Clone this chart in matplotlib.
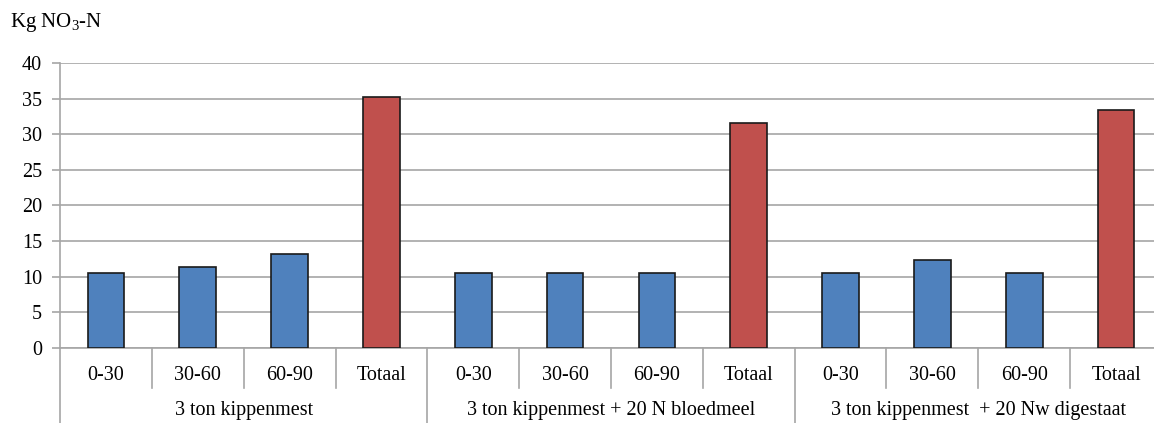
import numpy as np
import matplotlib.pyplot as plt
from matplotlib.transforms import blended_transform_factory

plt.rcParams['font.family'] = ['Liberation Serif', 'DejaVu Serif']
plt.rcParams['mathtext.fontset'] = 'custom'
plt.rcParams['mathtext.rm'] = 'Liberation Serif'

groups = ['3 ton kippenmest', '3 ton kippenmest + 20 N bloedmeel', '3 ton kippenmest  + 20 Nw digestaat']
layers = ['0-30', '30-60', '60-90', 'Totaal']
values_1 = [10.5, 11.4, 13.2, 35.2]
values_2 = [10.5, 10.5, 10.5, 31.6]
values_3 = [10.5, 12.3, 10.5, 33.4]

blue = '#4F81BD'
red = '#C0504D'
grid_c = '#A6A6A6'

values = values_1 + values_2 + values_3
labels = layers * len(groups)
colors = [red if l == 'Totaal' else blue for l in labels]
x = np.arange(len(values))

fig = plt.figure(figsize=(11.54, 4.23), dpi=100)
ax = fig.add_axes([60 / 1154, 75 / 423, 1102 / 1154, 285 / 423])

ax.bar(x, values, width=0.40, color=colors, edgecolor='#1a1a1a', linewidth=1.2, zorder=3)

ax.set_xlim(-0.5, len(values) - 0.5)
ax.set_ylim(0, 40)
ax.set_yticks(np.arange(0, 41, 5))
ax.yaxis.grid(True, color=grid_c, linewidth=1.2, zorder=0)
ax.tick_params(axis='y', labelsize=14.5, length=6, color=grid_c, width=1.2, pad=7)
ax.set_xticks([])
for side in ['top', 'right']:
    ax.spines[side].set_visible(False)
for side in ['left', 'bottom']:
    ax.spines[side].set_color(grid_c)
    ax.spines[side].set_linewidth(1.2)

# two-level category axis below the plot
tr = blended_transform_factory(ax.transData, ax.transAxes)
for i, lab in enumerate(labels):
    ax.text(i, -0.095, lab, transform=tr, ha='center', va='center', fontsize=14.5)
    if i > 0:
        depth = -0.265 if i % 4 == 0 else -0.14
        ax.plot([i - 0.5, i - 0.5], [0, depth], transform=tr, color=grid_c,
                linewidth=1.2, clip_on=False)
ax.plot([-0.5, -0.5], [0, -0.265], transform=tr, color=grid_c, linewidth=1.2, clip_on=False)
for g, name in enumerate(groups):
    ax.text(g * 4 + 1.5, -0.218, name, transform=tr, ha='center', va='center', fontsize=14.5)

fig.text(10 / 1154, 1 - 22 / 423, 'Kg NO$_3$-N', ha='left', va='center', fontsize=15)

fig.savefig('out.png', dpi=100)
